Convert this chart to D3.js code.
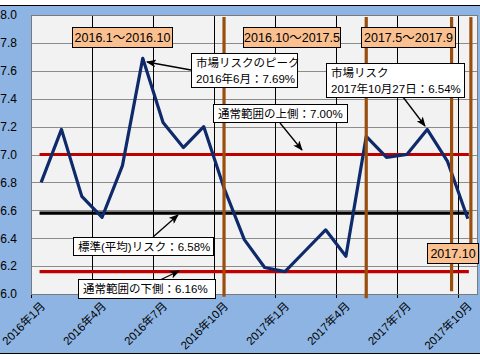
<!DOCTYPE html>
<html><head><meta charset="utf-8">
<script src="https://cdn.jsdelivr.net/npm/d3@7/dist/d3.min.js"></script>
<style>
body{margin:0;background:#fff}
svg text{font-family:"Liberation Sans","Noto Sans CJK JP",sans-serif;fill:#000}
</style>
</head><body>
<svg id="c" width="480" height="360"></svg>
<script>
// ---- data ----
const months = ["2016年1月","2016年2月","2016年3月","2016年4月","2016年5月","2016年6月","2016年7月","2016年8月","2016年9月","2016年10月","2016年11月","2016年12月",
                "2017年1月","2017年2月","2017年3月","2017年4月","2017年5月","2017年6月","2017年7月","2017年8月","2017年9月","2017年10月"];
const risk = [6.80,7.18,6.70,6.55,6.92,7.69,7.23,7.05,7.20,6.76,6.39,6.19,
              6.16,6.31,6.46,6.27,7.13,6.98,7.00,7.18,6.95,6.54];
const yTicks = [6.0,6.2,6.4,6.6,6.8,7.0,7.2,7.4,7.6,7.8,8.0];
const xTickMonths = [0,3,6,9,12,15,18,21];
const xTickLabels = ["2016年1月","2016年4月","2016年7月","2016年10月","2017年1月","2017年4月","2017年7月","2017年10月"];
const upperNormal = 7.00, averageRisk = 6.58, lowerNormal = 6.16;
const periodLabels = ["2016.1～2016.10","2016.10～2017.5","2017.5～2017.9","2017.10"];
const boundaryMonths = [9.5, 16.5, 20.7, 21.65];
const boundaryLow = [5.98, 5.97, 6.02, 6.31];
const calloutTexts = [
  ["市場リスクのピーク","2016年6月：7.69%"],
  ["通常範囲の上側：7.00%"],
  ["市場リスク","2017年10月27日：6.54%"],
  ["標準(平均)リスク：6.58%"],
  ["通常範囲の下側：6.16%"]
];

// ---- layout ----
const W=480,H=360;
const x = d3.scaleLinear().domain([0,22]).range([31,478]);
const y = d3.scaleLinear().domain([6,8]).range([294,15]);
const FS = "11.5px";
const svg = d3.select("#c");

svg.append("rect").attr("x",-2).attr("y",5.5).attr("width",W+4).attr("height",348)
  .attr("fill","#8DB4E2").attr("stroke","#000").attr("stroke-width",1);
svg.append("rect").attr("x",x(0)).attr("y",y(8)).attr("width",x(22)-x(0)).attr("height",y(6)-y(8))
  .attr("fill","#F2F2F2");

// horizontal gridlines
svg.append("g").selectAll("line").data(yTicks).join("line")
  .attr("x1",x(0)).attr("x2",x(22))
  .attr("y1",d=>Math.round(y(d))+0.5).attr("y2",d=>Math.round(y(d))+0.5)
  .attr("stroke","#8c8c8c").attr("stroke-width",1);

// vertical gridlines + ticks
svg.append("g").selectAll("line").data(xTickMonths).join("line")
  .attr("x1",d=>Math.round(x(d))+0.5).attr("x2",d=>Math.round(x(d))+0.5)
  .attr("y1",y(8)).attr("y2",y(6)+4)
  .attr("stroke","#000").attr("stroke-width",1);

// plot border
svg.append("rect").attr("x",x(0)+0.5).attr("y",y(8)+0.5).attr("width",x(22)-x(0)-1).attr("height",y(6)-y(8))
  .attr("fill","none").attr("stroke","#7a7a7a").attr("stroke-width",1);

// y axis labels
const yAxis = d3.axisLeft(y).tickValues(yTicks).tickFormat(d3.format(".1f")).tickSize(0).tickPadding(14);
const ga = svg.append("g").attr("transform",`translate(${x(0)},0)`).call(yAxis);
ga.select(".domain").remove();
ga.selectAll("text").style("font-size","12px").attr("fill","#000");

// x labels
svg.append("g").selectAll("text").data(xTickMonths).join("text")
  .attr("transform",(d)=>`translate(${x(d+0.5)+2},304) rotate(-45)`)
  .attr("text-anchor","end").attr("dominant-baseline","central")
  .style("font-size","11.5px").text((d,i)=>xTickLabels[i]);

// reference lines
const refs = [upperNormal, averageRisk, lowerNormal];
const refColors = ["#C00000","#000000","#C00000"];
svg.append("g").selectAll("line").data(refs).join("line")
  .attr("x1",x(0.42)).attr("x2",x(21.55))
  .attr("y1",d=>y(d)).attr("y2",d=>y(d))
  .attr("stroke",(d,i)=>refColors[i]).attr("stroke-width",3.2);

// data line
svg.append("path").datum(risk)
  .attr("d",d3.line().x((d,i)=>x(i+0.5)).y(d=>y(d)))
  .attr("fill","none").attr("stroke","#0E2A6B").attr("stroke-width",3.2)
  .attr("stroke-linejoin","round");

// boundary lines
svg.append("g").selectAll("line").data(boundaryMonths).join("line")
  .attr("x1",d=>x(d)).attr("x2",d=>x(d))
  .attr("y1",y(7.985)).attr("y2",(d,i)=>y(boundaryLow[i]))
  .attr("stroke","#9A4E0E").attr("stroke-width",3.2);

// arrow marker
const defs = svg.append("defs");
defs.append("marker").attr("id","ah").attr("viewBox","0 0 10 8").attr("refX",9).attr("refY",4)
  .attr("markerWidth",10).attr("markerHeight",8).attr("markerUnits","userSpaceOnUse").attr("orient","auto")
  .append("path").attr("d","M0,0 L10,4 L0,8 L2.5,4 Z").attr("fill","#000");

// arrows (annotation layout)
const arrows = [
  [191,70,147,62],
  [280,123,302,150],
  [403,97,425,126],
  [153,237,178,215],
  [160,280,179,271]
];
svg.append("g").selectAll("line").data(arrows).join("line")
  .attr("x1",d=>d[0]).attr("y1",d=>d[1]).attr("x2",d=>d[2]).attr("y2",d=>d[3])
  .attr("stroke","#000").attr("stroke-width",1.3).attr("marker-end","url(#ah)");

// period boxes
const periodBoxes = [[72,27,100,20],[243,27,97,20],[361,27,94,20],[427,243,51,20]];
const pg = svg.append("g").selectAll("g").data(periodLabels).join("g");
pg.append("rect").attr("x",(d,i)=>periodBoxes[i][0]+0.5).attr("y",(d,i)=>periodBoxes[i][1]+0.5)
  .attr("width",(d,i)=>periodBoxes[i][2]).attr("height",(d,i)=>periodBoxes[i][3])
  .attr("fill","#FAC090").attr("stroke","#000").attr("stroke-width",1);
pg.append("text").attr("x",(d,i)=>periodBoxes[i][0]+periodBoxes[i][2]/2+0.5)
  .attr("y",(d,i)=>periodBoxes[i][1]+periodBoxes[i][3]/2+1)
  .attr("text-anchor","middle").attr("dominant-baseline","central")
  .style("font-size","12.5px").text(d=>d);

// callouts
const calloutBoxes = [[191,53,106,34],[213,104,134,18],[326,63,138,34],[73,237,140,18],[78,279,137,19]];
const cg = svg.append("g").selectAll("g").data(calloutTexts).join("g");
cg.append("rect").attr("x",(d,i)=>calloutBoxes[i][0]+0.5).attr("y",(d,i)=>calloutBoxes[i][1]+0.5)
  .attr("width",(d,i)=>calloutBoxes[i][2]).attr("height",(d,i)=>calloutBoxes[i][3])
  .attr("fill","#fff").attr("stroke","#000").attr("stroke-width",1);
cg.each(function(lines,i){
  const b = calloutBoxes[i];
  const g = d3.select(this);
  const lh = 16;
  const top = b[1] + b[3]/2 - (lines.length-1)*lh/2 + 0.5;
  lines.forEach((t,k)=>{
    g.append("text").attr("x",b[0]+5).attr("y",top+k*lh)
      .attr("dominant-baseline","central").style("font-size",FS).text(t);
  });
});
</script>
</body></html>
